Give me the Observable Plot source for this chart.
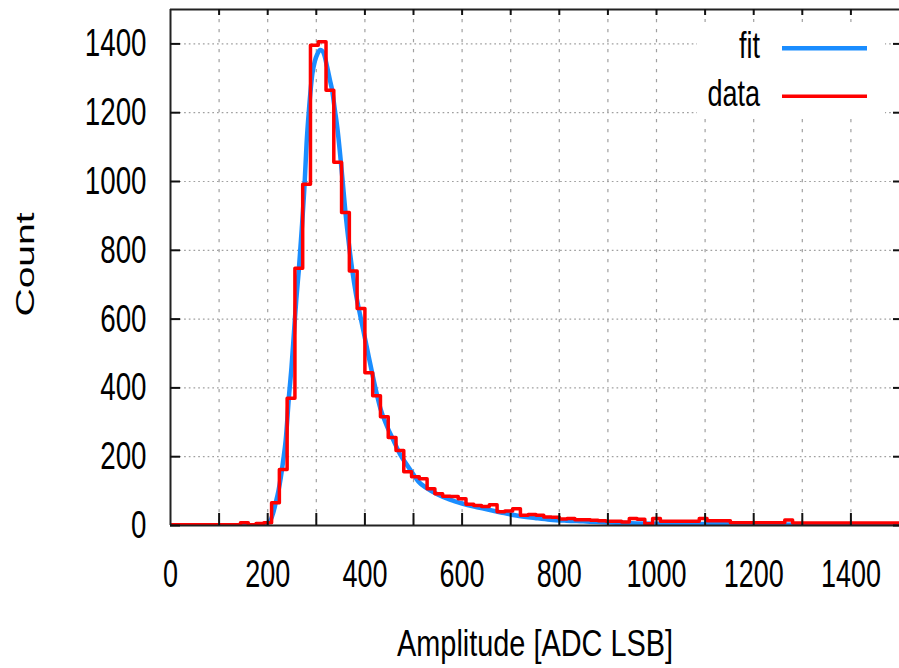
<!DOCTYPE html>
<html><head><meta charset="utf-8">
<script src="https://cdn.jsdelivr.net/npm/d3@7"></script>
<script src="https://cdn.jsdelivr.net/npm/@observablehq/plot@0.6"></script>
<style>
html,body{margin:0;padding:0;background:#fff;}
#chart{width:899px;height:668px;overflow:hidden;}
</style></head><body><div id="chart"></div>
<script>
// ---- data ----
const binWidth = 16;
const counts = [2,2,2,2,2,2,2,2,2,8, 2,6,8,66,163,370,748,992,1396,1406,
  1265,1056,910,740,631,444,377,316,256,218, 156,142,136,107,92,85,84,78,62,58,
  55,60,40,42,49,30,32,30,25,24, 19,20,17,17,15,14,12,12,10,20,
  18,5,20,12,12,12,12,12,20,14, 14,14,8,8,8,8,8,8,8,16,
  7,7,7,7,7,7,7,7,7,7, 7,7,7,7];
const fitX = [0,150,185,192,198,206,211,216,222,227,232,237,244,249,254,259,264,270,276,280,
  285,292,297,302,308,312,316,322,328,333,338,343,353,360,367,374,382,391,400,408,
  420,432,445,459,472,487,500,510,528,550,575,600,625,644,680,712,750,781,815,849,
  880,917,960,1000,1100,1200,1300,1400,1500];
const fitY = [0,0,0,2,6,16,35,63,100,140,190,247,380,460,560,660,742,860,995,1110,
  1210,1314,1350,1370,1382,1380,1370,1335,1295,1262,1210,1159,1020,910,820,742,670,606,545,490,
  410,340,290,247,208,175,148,128,108,90,75,64,55,49,38,29,22,17,14,12,
  10,8,6,5,4,3,2,2,1];
const xTickLabels = [0,200,400,600,800,1000,1200,1400];
const xGridValues = [100,200,300,400,500,600,700,800,900,1000,1100,1200,1300,1400];
const yTickLabels = [0,200,400,600,800,1000,1200,1400];
const seriesNames = ["fit","data"];
const seriesColors = ["#1a8dff","#ff0000"];
const xTitle = "Amplitude [ADC LSB]";
const yTitle = "Count";

// ---- tables ----
const histogram = counts.map((c,i)=>({x:i*binWidth, y:c}));
histogram.push({x: counts.length*binWidth, y: counts[counts.length-1]});
const fit = fitX.map((x,i)=>({x, y: fitY[i]}));

const W=899, H=668, mL=170, mR=0, mT=9, mB=143;
const innerW = W-mL-mR, innerH = H-mT-mB;
const FONT = "'Liberation Sans', Arial, sans-serif";

function legendMark(index, scales, values, dims) {
  const g = d3.create("svg:g").attr("aria-label","legend");
  const right = dims.width - dims.marginRight;
  g.append("rect").attr("x", right-202).attr("y", dims.marginTop+13)
    .attr("width", 188).attr("height", 96).attr("fill","#fff");
  seriesNames.forEach((name,i)=>{
    const ly = dims.marginTop + 39.3 + i*48;
    g.append("text").attr("x", right-139).attr("y", ly+9.5)
      .attr("text-anchor","end").attr("font-size",37.5).attr("fill","#000")
      .attr("font-family", FONT).text(name);
    g.append("line").attr("x1", right-117).attr("x2", right-32)
      .attr("y1", ly).attr("y2", ly)
      .attr("stroke", seriesColors[i]).attr("stroke-width", i===0?4.5:3.5);
  });
  return g.node();
}

const chart = Plot.plot({
  width: W, height: H,
  marginLeft: mL, marginRight: mR, marginTop: mT, marginBottom: mB,
  style: {background:"#fff", fontFamily: FONT, color:"#000"},
  x: {domain:[0,1500], axis:null},
  y: {domain:[0,1500], axis:null},
  marks: [
    Plot.ruleX(xGridValues, {x:d=>d, stroke:"#a0a0a0", strokeWidth:1.2, strokeDasharray:"3.3,6.7"}),
    Plot.ruleY(yTickLabels.filter(v=>v>0), {y:d=>d, stroke:"#a0a0a0", strokeWidth:1.2, strokeDasharray:"1.7,3"}),
    legendMark,
    Plot.line(fit, {x:"x", y:"y", stroke: seriesColors[0], strokeWidth:4.5, curve:"monotone-x", clip:true}),
    Plot.line(histogram, {x:"x", y:"y", stroke: seriesColors[1], strokeWidth:3.5, curve:"step-after", clip:true}),
    Plot.ruleX([0], {x:d=>d, stroke:"#222", strokeWidth:2}),
    Plot.ruleY([0,1500], {y:d=>d, stroke:"#222", strokeWidth:2}),
    Plot.tickX(xGridValues, {x:d=>d, insetTop: innerH-12, stroke:"#111", strokeWidth:2}),
    Plot.tickX(xGridValues, {x:d=>d, insetBottom: innerH-6, stroke:"#111", strokeWidth:2}),
    Plot.tickY(yTickLabels, {y:d=>d, insetRight: innerW-10, stroke:"#111", strokeWidth:2}),
    Plot.tickY(yTickLabels, {y:d=>d, insetLeft: innerW-6, stroke:"#111", strokeWidth:2}),
    Plot.text(xTickLabels, {x:d=>d, text:d=>String(d), frameAnchor:"bottom", lineAnchor:"bottom",
      dy:61, fontSize:38, fill:"#000"}),
    Plot.text(yTickLabels, {y:d=>d, text:d=>String(d), frameAnchor:"left", textAnchor:"end", lineAnchor:"bottom",
      dx:-24, dy:12.5, fontSize:38.5, fill:"#000"}),
    Plot.text([xTitle], {text:d=>d, frameAnchor:"bottom", lineAnchor:"bottom", dy:130, fontSize:37,
      fill:"#000"}),
    Plot.text([yTitle], {text:d=>d, frameAnchor:"left", textAnchor:"middle", lineAnchor:"bottom", rotate:-90,
      dx:-137, dy:-3, fontSize:39, fill:"#000"})
  ]
});
document.getElementById("chart").append(chart);

// condensed lettering as in the reference (keyed by font size of each text group)
const squeezeBySize = {"38":0.71, "38.5":0.72, "37":0.78, "37.5":0.72};
d3.select(chart).selectAll("text").each(function(){
  const fs = String(parseFloat(getComputedStyle(this).fontSize));
  if (fs === "39") {
    const t = this.getAttribute("transform") || "";
    this.setAttribute("transform", t + " scale(1,0.68)");
    return;
  }
  const f = squeezeBySize[fs];
  if (!f) return;
  const len = this.getComputedTextLength();
  this.setAttribute("textLength", (len*f).toFixed(1));
  this.setAttribute("lengthAdjust","spacingAndGlyphs");
});
</script></body></html>
